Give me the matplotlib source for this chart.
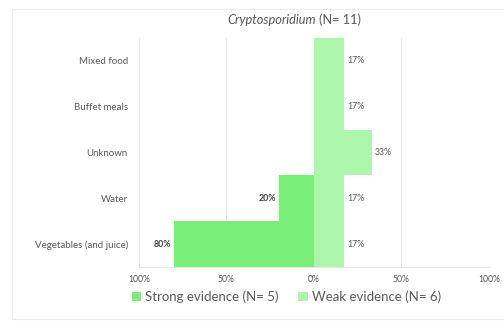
import matplotlib
matplotlib.use("Agg")
import matplotlib.pyplot as plt
from matplotlib.patches import Rectangle, Patch

categories = ["Vegetables (and juice)", "Water", "Unknown", "Buffet meals", "Mixed food"]
strong = [0.80, 0.20, 0.0, 0.0, 0.0]
weak = [0.17, 0.17, 0.33, 0.17, 0.17]
tick_vals = [-1.0, -0.5, 0.0, 0.5, 1.0]
tick_labels = ["100%", "50%", "0%", "50%", "100%"]

strong_color = "#79ee79"
weak_color = "#abf6ab"
text_color = "#595959"

plt.rcParams["font.family"] = ["Lato", "DejaVu Sans"]

fig = plt.figure(figsize=(5.04, 3.22), dpi=100)
ax = fig.add_axes([0.2758, 0.171, 0.694, 0.711])

y = list(range(len(categories)))
ax.barh(y, [-s for s in strong], height=1.0, color=strong_color, zorder=2)
ax.barh(y, weak, height=1.0, color=weak_color, zorder=2)

for yi, s in zip(y, strong):
    if s > 0:
        ax.text(-s - 0.015, yi, f"{s:.0%}", ha="right", va="center",
                fontsize=6.3, fontweight="bold", color="#404040")
for yi, w in zip(y, weak):
    ax.text(w + 0.02, yi, f"{w:.0%}", ha="left", va="center",
            fontsize=6.3, color=text_color)

ax.set_xlim(-1, 1)
ax.set_ylim(-0.5, len(categories) - 0.5)
ax.set_xticks(tick_vals)
ax.set_xticklabels(tick_labels, fontsize=6.2, color=text_color)
ax.set_yticks(y)
ax.set_yticklabels(categories, fontsize=7, color=text_color)
ax.tick_params(length=0, pad=8)
ax.tick_params(axis="x", pad=6)
ax.grid(axis="x", color="#e3e3e3", linewidth=0.6, zorder=0)
for side in ["top", "left", "right"]:
    ax.spines[side].set_visible(False)
ax.spines["bottom"].set_color("#e3e3e3")
ax.spines["bottom"].set_linewidth(0.6)

fig.text(0.627, 0.938, "Cryptosporidium", style="italic", ha="right", va="center",
         fontsize=9.2, color=text_color)
fig.text(0.632, 0.938, "(N= 11)", ha="left", va="center", fontsize=9.2, color=text_color)

handles = [Patch(facecolor=strong_color, label="Strong evidence (N= 5)"),
           Patch(facecolor=weak_color, label="Weak evidence (N= 6)")]
leg = fig.legend(handles=handles, loc="center", bbox_to_anchor=(0.568, 0.078), ncol=2,
                 frameon=False, fontsize=9.5, handlelength=0.7, handleheight=0.7,
                 handletextpad=0.3, columnspacing=1.5)
for t in leg.get_texts():
    t.set_color(text_color)

fig.patches.append(Rectangle((0.024, 0.008), 1.1, 0.965, transform=fig.transFigure,
                             fill=False, edgecolor="#ececec", linewidth=0.8))

fig.savefig("out.png", dpi=100)
